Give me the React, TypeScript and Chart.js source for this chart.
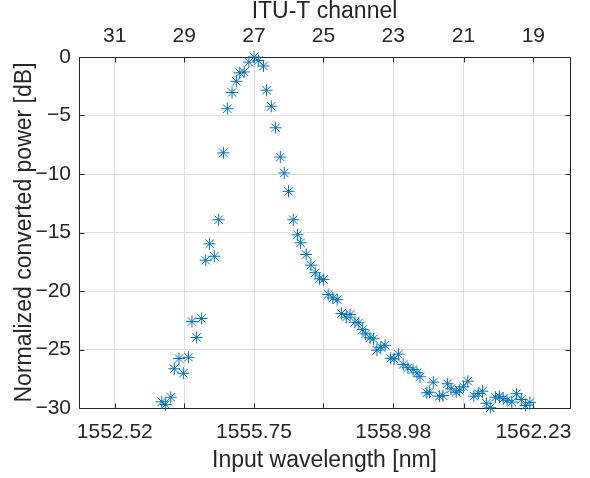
import React, { useEffect, useRef } from "react";
import { Chart, registerables } from "chart.js";

Chart.register(...registerables);

const wavelengthNm = [
  1553.61, 1553.70, 1553.82, 1553.90, 1554.01, 1554.11, 1554.23, 1554.31, 1554.42, 1554.53,
  1554.63, 1554.72, 1554.83, 1554.93, 1555.04, 1555.13, 1555.24, 1555.34, 1555.42, 1555.52,
  1555.63, 1555.75, 1555.85, 1555.97, 1556.04, 1556.15, 1556.25, 1556.36, 1556.45, 1556.55,
  1556.66, 1556.76, 1556.83, 1556.96, 1557.07, 1557.17, 1557.27, 1557.36, 1557.47, 1557.58,
  1557.68, 1557.78, 1557.89, 1557.98, 1558.09, 1558.18, 1558.27, 1558.34, 1558.44, 1558.52,
  1558.60, 1558.69, 1558.79, 1558.92, 1559.00, 1559.10, 1559.21, 1559.32, 1559.44, 1559.53,
  1559.60, 1559.76, 1559.82, 1559.91, 1560.05, 1560.13, 1560.24, 1560.32, 1560.44, 1560.51,
  1560.61, 1560.71, 1560.85, 1560.95, 1561.05, 1561.14, 1561.23, 1561.35, 1561.44, 1561.53,
  1561.62, 1561.73, 1561.84, 1561.95, 1562.05, 1562.15,
];

const powerDb = [
  -29.47, -29.70, -29.08, -26.65, -25.77, -27.03, -25.66, -22.61, -23.97, -22.35,
  -17.37, -15.97, -17.03, -13.91, -8.19, -4.42, -3.03, -2.08, -1.35, -1.28,
  -0.44, 0, -0.30, -0.77, -2.84, -4.21, -6.05, -8.55, -9.91, -11.48,
  -13.91, -15.19, -15.88, -16.88, -17.79, -18.44, -18.96, -19.02, -20.30, -20.60,
  -20.74, -21.92, -22.24, -22.01, -22.67, -22.72, -23.29, -23.66, -24.00, -24.09,
  -25.06, -24.80, -24.64, -25.75, -25.81, -25.40, -26.28, -26.56, -26.71, -26.99,
  -27.33, -28.70, -28.65, -27.79, -28.99, -28.93, -27.93, -28.36, -28.65, -28.48,
  -28.19, -27.71, -28.99, -28.76, -28.56, -29.59, -29.98, -29.08, -28.99, -29.21,
  -29.34, -29.49, -28.78, -29.27, -29.79, -29.53,
];

const channelWavelengths = [1552.52, 1554.13, 1555.75, 1557.36, 1558.98, 1560.61, 1562.23];
const channelLabels = ["31", "29", "27", "25", "23", "21", "19"];
const bottomTickLabels = ["1552.52", "", "1555.75", "", "1558.98", "", "1562.23"];
const yTickValues = [0, -5, -10, -15, -20, -25, -30];
const yTickLabels = ["0", "\u22125", "\u221210", "\u221215", "\u221220", "\u221225", "\u221230"];

const X_MIN = 1551.69;
const X_MAX = 1563.08;

const FONT = "'Liberation Sans', Arial, Helvetica, sans-serif";
const AXIS_COLOR = "#262626";
const GRID_COLOR = "#dedede";
const MARKER_COLOR = "#0072BD";

const boxPlugin = {
  id: "matlabBox",
  beforeDatasetsDraw(chart: any) {
    const { ctx, chartArea, scales } = chart;
    const L = Math.round(chartArea.left) + 0.5;
    const R = Math.round(chartArea.right) + 0.5;
    const T = Math.round(chartArea.top) + 0.5;
    const B = Math.round(chartArea.bottom) + 0.5;
    const tl = 5;
    ctx.save();
    ctx.strokeStyle = AXIS_COLOR;
    ctx.lineWidth = 1;
    ctx.beginPath();
    ctx.rect(L, T, R - L, B - T);
    channelWavelengths.forEach((v) => {
      const px = Math.round(scales.x.getPixelForValue(v)) + 0.5;
      ctx.moveTo(px, B);
      ctx.lineTo(px, B - tl);
      ctx.moveTo(px, T);
      ctx.lineTo(px, T + tl);
    });
    yTickValues.forEach((v) => {
      const py = Math.round(scales.y.getPixelForValue(v)) + 0.5;
      ctx.moveTo(L, py);
      ctx.lineTo(L + tl, py);
      ctx.moveTo(R, py);
      ctx.lineTo(R - tl, py);
    });
    ctx.stroke();
    ctx.restore();
  },
};

export default function App() {
  const canvasRef = useRef<HTMLCanvasElement | null>(null);

  useEffect(() => {
    const canvas = canvasRef.current;
    if (!canvas) return;
    const points = wavelengthNm.map((x, i) => ({ x, y: powerDb[i] }));
    const setTicks = (scale: any) => {
      scale.ticks = channelWavelengths.map((v) => ({ value: v }));
    };
    const findIdx = (value: any) =>
      channelWavelengths.findIndex((w) => Math.abs(w - Number(value)) < 1e-6);
    const chart = new Chart(canvas, {
      type: "scatter",
      data: {
        datasets: [
          {
            data: points,
            showLine: false,
            pointStyle: "star",
            pointRadius: 6,
            pointHoverRadius: 6,
            borderColor: MARKER_COLOR,
            pointBorderColor: MARKER_COLOR,
            backgroundColor: "rgba(0,0,0,0)",
            pointBackgroundColor: "rgba(0,0,0,0)",
            pointBorderWidth: 1,
            borderWidth: 1,
            clip: false as any,
          } as any,
        ],
      },
      options: {
        animation: false,
        responsive: false,
        maintainAspectRatio: false,
        events: [],
        layout: { padding: { left: 0, right: 20, top: 0, bottom: 0 } },
        plugins: {
          legend: { display: false },
          tooltip: { enabled: false },
        },
        scales: {
          x: {
            type: "linear",
            position: "bottom",
            min: X_MIN,
            max: X_MAX,
            offset: false,
            afterBuildTicks: setTicks,
            afterFit: (scale: any) => {
              scale.height = 70;
            },
            border: { display: false },
            grid: { color: GRID_COLOR, drawTicks: false, lineWidth: 1 },
            ticks: {
              autoSkip: false,
              maxRotation: 0,
              minRotation: 0,
              padding: 12,
              color: AXIS_COLOR,
              font: { family: FONT, size: 21 },
              callback: (value: any) => {
                const idx = findIdx(value);
                return idx >= 0 ? bottomTickLabels[idx] : "";
              },
            },
            title: {
              display: true,
              text: "Input wavelength [nm]",
              color: AXIS_COLOR,
              font: { family: FONT, size: 23 },
              padding: { top: 0, bottom: 4 },
            },
          },
          x2: {
            type: "linear",
            position: "top",
            min: X_MIN,
            max: X_MAX,
            offset: false,
            afterBuildTicks: setTicks,
            afterFit: (scale: any) => {
              scale.height = 57;
            },
            border: { display: false },
            grid: { display: false, drawTicks: false },
            ticks: {
              autoSkip: false,
              maxRotation: 0,
              minRotation: 0,
              padding: 8,
              color: AXIS_COLOR,
              font: { family: FONT, size: 21 },
              callback: (value: any) => {
                const idx = findIdx(value);
                return idx >= 0 ? channelLabels[idx] : "";
              },
            },
            title: {
              display: true,
              text: "ITU-T channel",
              color: AXIS_COLOR,
              font: { family: FONT, size: 23, lineHeight: 1 },
              padding: { top: 0, bottom: 0 },
            },
          },
          y: {
            type: "linear",
            position: "left",
            min: -30,
            max: 0,
            afterBuildTicks: (scale: any) => {
              scale.ticks = yTickValues.map((v) => ({ value: v }));
            },
            afterFit: (scale: any) => {
              scale.width = 79;
            },
            border: { display: false },
            grid: { color: GRID_COLOR, drawTicks: false, lineWidth: 1 },
            ticks: {
              padding: 8,
              color: AXIS_COLOR,
              font: { family: FONT, size: 21 },
              callback: (value: any) => {
                const idx = yTickValues.indexOf(Number(value));
                return idx >= 0 ? yTickLabels[idx] : "";
              },
            },
            title: {
              display: true,
              text: "Normalized converted power [dB]",
              color: AXIS_COLOR,
              font: { family: FONT, size: 23 },
              padding: { top: 11, bottom: 0 },
            },
          },
        },
      } as any,
      plugins: [boxPlugin],
    });
    return () => {
      chart.destroy();
    };
  }, []);

  return (
    <div style={{ position: "fixed", left: 0, top: 0, width: 590, height: 478, background: "#ffffff" }}>
      <canvas ref={canvasRef} width={590} height={478} style={{ display: "block", width: 590, height: 478 }} />
    </div>
  );
}
